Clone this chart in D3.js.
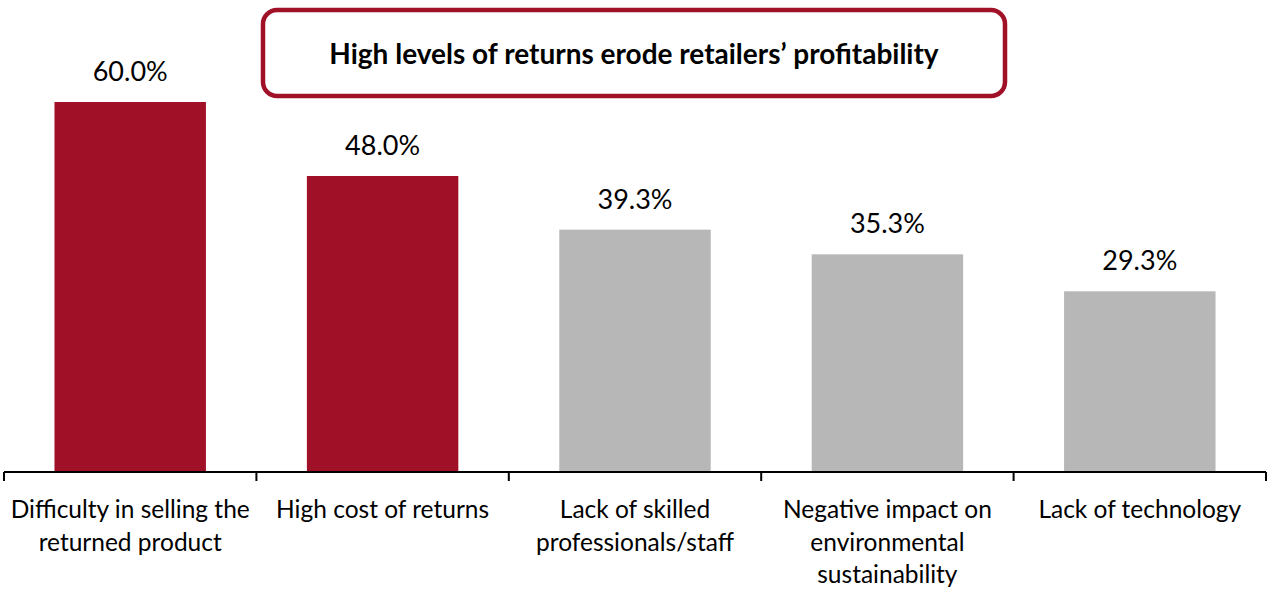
<!DOCTYPE html>
<html><head><meta charset="utf-8">
<script src="https://cdn.jsdelivr.net/npm/d3@7"></script>
<style>body{margin:0;background:#fff}svg{display:block}</style>
</head><body>
<svg id="c" width="1268" height="607"></svg>
<script>
const categories = [
  ["Difficulty in selling the", "returned product"],
  ["High cost of returns"],
  ["Lack of skilled", "professionals/staff"],
  ["Negative impact on", "environmental", "sustainability"],
  ["Lack of technology"]
];
const values = [60.0, 48.0, 39.3, 35.3, 29.3];
const highlighted = [true, true, false, false, false];
const title = "High levels of returns erode retailers\u2019 profitability";

const svg = d3.select("#c");
const font = "Lato, 'Open Sans', sans-serif";
const x = d3.scaleBand().domain(d3.range(values.length)).range([4, 1266]).paddingInner(0.4).paddingOuter(0.2);
const y = d3.scaleLinear().domain([0, 60]).range([472, 102]);

svg.selectAll("rect.bar").data(values).join("rect")
  .attr("class","bar")
  .attr("x",(d,i)=>x(i)).attr("width",x.bandwidth())
  .attr("y",d=>y(d)).attr("height",d=>y(0)-y(d))
  .attr("fill",(d,i)=>highlighted[i]?"#A01127":"#B7B7B7");

svg.selectAll("text.val").data(values).join("text")
  .attr("class","val")
  .attr("x",(d,i)=>x(i)+x.bandwidth()/2).attr("y",d=>y(d)-21)
  .attr("text-anchor","middle").attr("font-family",font).attr("font-size",27)
  .attr("fill","#000").text(d=>d.toFixed(1)+"%");

// axis
const tickPos = d3.range(values.length+1).map(i=>4+i*(1262/values.length));
svg.append("line").attr("x1",4).attr("x2",1266).attr("y1",472).attr("y2",472)
  .attr("stroke","#000").attr("stroke-width",2);
svg.selectAll("line.tick").data(tickPos).join("line").attr("class","tick")
  .attr("x1",d=>d).attr("x2",d=>d).attr("y1",472).attr("y2",481)
  .attr("stroke","#000").attr("stroke-width",2);

const lab = svg.selectAll("text.cat").data(categories).join("text")
  .attr("class","cat").attr("text-anchor","middle").attr("font-family",font).attr("font-size",24.5).attr("fill","#000");
lab.each(function(lines,i){
  d3.select(this).selectAll("tspan").data(lines).join("tspan")
    .attr("x",x(i)+x.bandwidth()/2).attr("y",(d,j)=>518+j*32.5).text(d=>d);
});

// title box
svg.append("rect").attr("x",263).attr("y",10).attr("width",742).attr("height",86).attr("rx",14)
  .attr("fill","#fff").attr("stroke","#A01127").attr("stroke-width",4.5);
svg.append("text").attr("x",634).attr("y",64).attr("text-anchor","middle")
  .attr("font-family",font).attr("font-weight","bold").attr("font-size",28).text(title);
</script>
</body></html>
